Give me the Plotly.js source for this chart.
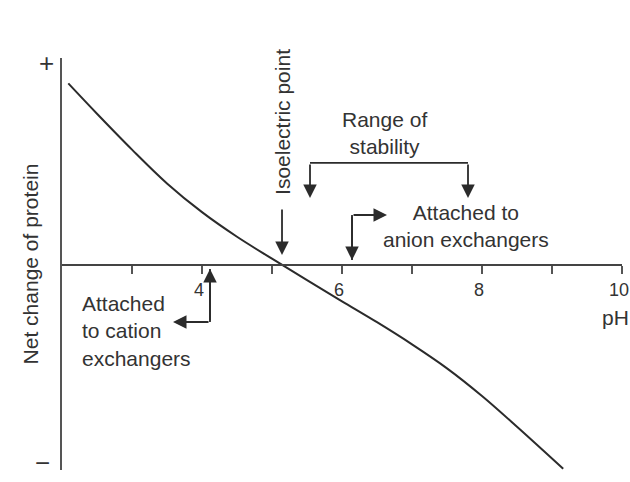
<!DOCTYPE html>
<html>
<head>
<meta charset="utf-8">
<script src="https://cdn.plot.ly/plotly-3.0.1.min.js"></script>
<style>html,body{margin:0;padding:0;background:#fff;}#chart{width:630px;height:482px;}</style>
</head>
<body>
<div id="chart"></div>
<script>
// Titration curve of a protein: net charge vs pH
const pH = [2.09, 2.5, 3.0, 3.5, 4.0, 4.5, 5.0, 5.5, 6.0, 6.5, 7.0, 7.5, 8.0, 8.5, 9.16];
const netCharge = [0.886, 0.738, 0.563, 0.398, 0.258, 0.138, 0.031, -0.074, -0.177, -0.279, -0.387, -0.504, -0.639, -0.789, -0.994];
const xTickVals = [3, 4, 5, 6, 7, 8, 9, 10];
const xTickText = ['', '4', '', '6', '', '8', '', '10'];

const ink = '#2b2b2b';
const fontFam = '"Liberation Sans", Arial, Helvetica, sans-serif';
const txt = {family: fontFam, size: 21, color: '#333'};

const trace = {
  x: pH, y: netCharge, type: 'scatter', mode: 'lines',
  line: {color: ink, width: 2, shape: 'spline', smoothing: 1},
  hoverinfo: 'skip', showlegend: false
};

function arrow(x, y, ax, ay) {
  return {x: x, y: y, xref: 'x', yref: 'y', ax: ax, ay: ay, text: '',
    showarrow: true, arrowhead: 2, arrowsize: 1.5, arrowwidth: 1.8, arrowcolor: ink, standoff: 0};
}

const layout = {
  width: 630, height: 482,
  margin: {l: 62, r: 8, t: 58, b: 12},
  paper_bgcolor: '#ffffff', plot_bgcolor: '#ffffff',
  font: txt,
  xaxis: {
    range: [2, 10], anchor: 'free', position: 0.4975,
    showline: true, linecolor: '#444', linewidth: 2,
    showgrid: false, zeroline: false,
    tickmode: 'array', tickvals: xTickVals, ticktext: xTickText,
    ticks: 'outside', ticklen: 8, tickwidth: 1.5, tickcolor: '#555',
    ticklabelshift: -3,
    tickfont: {family: fontFam, size: 18, color: '#333'}
  },
  yaxis: {
    range: [-1.0, 1.01],
    showline: true, linecolor: '#555', linewidth: 2,
    showgrid: false, zeroline: false, showticklabels: false, ticks: '',
    title: {text: 'Net change of protein', font: {family: fontFam, size: 21, color: '#333'}, standoff: 16}
  },
  shapes: [
    {type: 'line', xref: 'x', yref: 'y', x0: 5.543, x1: 7.8, y0: 0.498, y1: 0.498, line: {color: ink, width: 1.8}},
    {type: 'line', xref: 'x', yref: 'y', x0: 6.143, x1: 6.143, y0: 0.244, y1: 0.024, line: {color: ink, width: 1.8}},
    {type: 'line', xref: 'x', yref: 'y', x0: 4.114, x1: 4.114, y0: -0.278, y1: -0.02, line: {color: ink, width: 1.8}}
  ],
  annotations: [
    {x: -0.0268, y: 0.988, xref: 'paper', yref: 'paper', xanchor: 'center', yanchor: 'middle', text: '+', showarrow: false, font: {family: fontFam, size: 26, color: '#333'}},
    {x: -0.0357, y: 0.017, xref: 'paper', yref: 'paper', xanchor: 'center', yanchor: 'middle', text: '\u2212', showarrow: false, font: {family: fontFam, size: 26, color: '#333'}},
    {x: 9.914, y: -0.254, xref: 'x', yref: 'y', text: 'pH', showarrow: false, font: txt},
    {x: 5.157, y: 0.698, xref: 'x', yref: 'y', text: 'Isoelectric point', textangle: -90, showarrow: false, font: txt},
    arrow(5.143, 0.049, 0, -47),
    {x: 6.614, y: 0.644, xref: 'x', yref: 'y', text: 'Range of<br>stability', showarrow: false, font: txt},
    arrow(5.543, 0.327, 0, -35),
    arrow(7.8, 0.327, 0, -35),
    {x: 7.771, y: 0.19, xref: 'x', yref: 'y', text: 'Attached to<br>anion exchangers', showarrow: false, font: txt},
    arrow(6.143, 0.024, 0, -45),
    arrow(6.643, 0.244, -35, 0),
    {x: 2.257, y: -0.322, xref: 'x', yref: 'y', xanchor: 'left', align: 'left', text: 'Attached<br>to cation<br>exchangers', showarrow: false, font: txt},
    arrow(4.114, -0.02, 0, 53),
    arrow(3.586, -0.278, 37, 0)
  ]
};

Plotly.newPlot('chart', [trace], layout, {displayModeBar: false, staticPlot: true});
</script>
</body>
</html>
